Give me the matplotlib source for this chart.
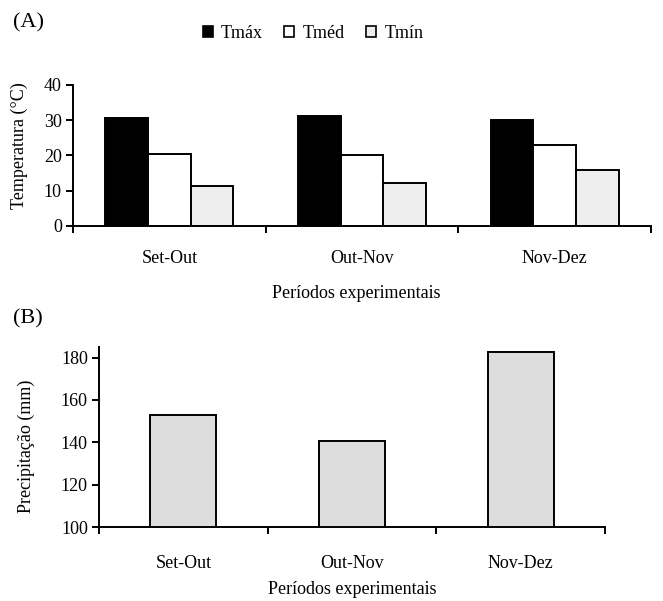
import matplotlib
matplotlib.use("Agg")
import matplotlib.pyplot as plt
from matplotlib.patches import Patch

# data
periodos = ["Set-Out", "Out-Nov", "Nov-Dez"]
t_max = [30.7, 31.2, 30.0]
t_med = [20.3, 20.2, 22.9]
t_min = [11.3, 12.3, 15.8]
precip = [153.1, 140.8, 182.6]

plt.rcParams["font.family"] = ["Liberation Serif", "DejaVu Serif"]
plt.rcParams["font.size"] = 13

fig = plt.figure(figsize=(6.63, 6.01), dpi=100)
ax1 = fig.add_axes([0.1101, 0.6240, 0.8719, 0.2346])
ax2 = fig.add_axes([0.1493, 0.1231, 0.7632, 0.2995])

x = list(range(len(periodos)))
w = 0.221
edge = dict(edgecolor="black", linewidth=1.4)


def style(ax, pad):
    for s in ("top", "right"):
        ax.spines[s].set_visible(False)
    for s in ("left", "bottom"):
        ax.spines[s].set_linewidth(1.4)
    ax.set_xlim(-0.5, len(periodos) - 0.5)
    # boundary ticks without labels, category names on minor ticks
    ax.set_xticks([i - 0.5 for i in range(len(periodos) + 1)])
    ax.set_xticklabels([])
    ax.set_xticks(x, minor=True)
    ax.set_xticklabels(periodos, minor=True)
    ax.tick_params(axis="x", which="major", direction="out", length=5, width=1.4)
    ax.tick_params(axis="x", which="minor", length=0, pad=pad)
    ax.tick_params(axis="y", direction="out", length=5, width=1.4, pad=3)


# ── (A) temperatures ──
ax1.bar([i - w for i in x], t_max, w, color="black", **edge)
ax1.bar(x, t_med, w, color="white", **edge)
ax1.bar([i + w for i in x], t_min, w, color="#eeeeee", **edge)
style(ax1, 17)
ax1.set_ylim(0, 40)
ax1.set_yticks([0, 10, 20, 30, 40])
ax1.set_ylabel("Temperatura (°C)")
ax1.yaxis.set_label_coords(-0.078, 0.57)
ax1.set_xlabel("Períodos experimentais")
ax1.xaxis.set_label_coords(0.49, -0.42)

handles = [
    Patch(facecolor="black", edgecolor="black", linewidth=1.2),
    Patch(facecolor="white", edgecolor="black", linewidth=1.2),
    Patch(facecolor="#eeeeee", edgecolor="black", linewidth=1.2),
]
fig.legend(handles, ["Tmáx", "Tméd", "Tmín"], ncol=3, frameon=False,
           loc="center", bbox_to_anchor=(0.472, 0.945),
           handlelength=0.55, handleheight=0.55, handletextpad=0.45,
           columnspacing=1.2, fontsize=13)

# ── (B) rainfall ──
ax2.bar(x, precip, 0.39, color="#dddddd", **edge)
style(ax2, 20)
ax2.set_ylim(100, 185)
ax2.set_yticks([100, 120, 140, 160, 180])
ax2.set_ylabel("Precipitação (mm)")
ax2.yaxis.set_label_coords(-0.126, 0.45)
ax2.set_xlabel("Períodos experimentais")
ax2.xaxis.set_label_coords(0.5, -0.30)

fig.text(0.02, 0.962, "(A)", fontsize=16, va="center")
fig.text(0.02, 0.470, "(B)", fontsize=16, va="center")

fig.savefig("out.png", dpi=100)
